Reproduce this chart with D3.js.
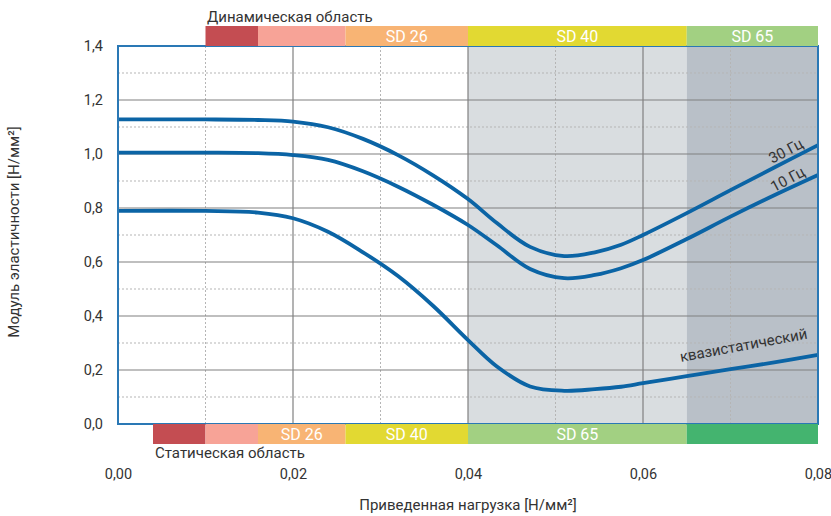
<!DOCTYPE html>
<html><head><meta charset="utf-8">
<script src="https://cdn.jsdelivr.net/npm/d3@7"></script>
<style>
body{margin:0;background:#fff;}
svg{display:block;font-family:Roboto,"Noto Sans",sans-serif;}
</style></head><body>
<svg id="c" width="831" height="516"></svg>
<script>
// ---- data ----
const loadX   = [0, 0.01, 0.016, 0.02, 0.024, 0.028, 0.032, 0.036, 0.04, 0.0433, 0.0471, 0.051, 0.0545, 0.0575, 0.06, 0.065, 0.07, 0.075, 0.08];
const hz30    = [1.128, 1.128, 1.126, 1.12, 1.099, 1.056, 0.996, 0.921, 0.833, 0.744, 0.656, 0.622, 0.636, 0.664, 0.70, 0.781, 0.866, 0.95, 1.033];
const hz10    = [1.005, 1.005, 1.003, 0.996, 0.978, 0.936, 0.879, 0.812, 0.737, 0.662, 0.574, 0.54, 0.552, 0.577, 0.607, 0.685, 0.768, 0.847, 0.922];
const quasi   = [0.789, 0.789, 0.783, 0.762, 0.712, 0.636, 0.548, 0.438, 0.311, 0.213, 0.139, 0.123, 0.129, 0.138, 0.151, 0.177, 0.203, 0.228, 0.256];
const seriesNames = ["30 Гц", "10 Гц", "квазистатический"];

const xTicks = [0, 0.02, 0.04, 0.06, 0.08];
const xMinor = [0.01, 0.03, 0.05, 0.07];
const yTicks = [0, 0.2, 0.4, 0.6, 0.8, 1.0, 1.2, 1.4];
const yMinor = [0.1, 0.3, 0.5, 0.7, 0.9, 1.1, 1.3];

// dynamic (top) bands
const dynStart = [0.01, 0.016, 0.026, 0.04, 0.065];
const dynEnd   = [0.016, 0.026, 0.04, 0.065, 0.08];
const dynLabel = ["", "", "SD 26", "SD 40", "SD 65"];
const dynColor = ["#c44d52", "#f7a397", "#f8b474", "#e2d932", "#a2d082"];
// static (bottom) bands
const statStart = [0.004, 0.01, 0.016, 0.026, 0.04, 0.065];
const statEnd   = [0.01, 0.016, 0.026, 0.04, 0.065, 0.08];
const statLabel = ["", "", "SD 26", "SD 40", "SD 65", ""];
const statColor = ["#c44d52", "#f7a397", "#f8b474", "#e2d932", "#a2d082", "#44b46f"];
// shaded zones
const shadeStart = [0.04, 0.065];
const shadeEnd   = [0.065, 0.08];
const shadeColor = ["#d9dde0", "#b9c0c8"];

// ---- drawing ----
const svg = d3.select("#c");
const x = d3.scaleLinear().domain([0, 0.08]).range([118, 818]);
const y = d3.scaleLinear().domain([0, 1.4]).range([424, 46]);
const loc = d3.formatLocale({decimal: ",", thousands: " ", grouping: [3], currency: ["", ""]});
const textCol = "#333";

// shading
svg.selectAll("rect.shade").data(shadeStart).enter().append("rect")
  .attr("x", (d) => x(d)).attr("y", y(1.4))
  .attr("width", (d, i) => x(shadeEnd[i]) - x(d)).attr("height", y(0) - y(1.4))
  .attr("fill", (d, i) => shadeColor[i]);

// minor grid (dashed)
svg.selectAll("line.xm").data(xMinor).enter().append("line")
  .attr("x1", d => x(d)).attr("x2", d => x(d)).attr("y1", y(0)).attr("y2", y(1.4))
  .attr("stroke", "#b5b5b5").attr("stroke-width", 1).attr("stroke-dasharray", "2,2");
svg.selectAll("line.ym").data(yMinor).enter().append("line")
  .attr("x1", x(0)).attr("x2", x(0.08)).attr("y1", d => y(d)).attr("y2", d => y(d))
  .attr("stroke", "#b5b5b5").attr("stroke-width", 1).attr("stroke-dasharray", "2,2");
// major grid
svg.selectAll("line.xg").data(xTicks.slice(1, -1)).enter().append("line")
  .attr("x1", d => x(d)).attr("x2", d => x(d)).attr("y1", y(0)).attr("y2", y(1.4))
  .attr("stroke", "#808080").attr("stroke-width", 1.2);
svg.selectAll("line.yg").data(yTicks.slice(1, -1)).enter().append("line")
  .attr("x1", x(0)).attr("x2", x(0.08)).attr("y1", d => y(d)).attr("y2", d => y(d))
  .attr("stroke", "#808080").attr("stroke-width", 1.2);

// curves
const line = d3.line().x((d, i) => x(loadX[i])).y(d => y(d)).curve(d3.curveCatmullRom.alpha(0.5));
[hz30, hz10, quasi].forEach(s => {
  svg.append("path").attr("d", line(s)).attr("fill", "none")
    .attr("stroke", "#0b64a5").attr("stroke-width", 3.8).attr("stroke-linecap", "butt");
});

// plot border
svg.append("rect").attr("x", x(0)).attr("y", y(1.4))
  .attr("width", x(0.08) - x(0)).attr("height", y(0) - y(1.4))
  .attr("fill", "none").attr("stroke", "#2a78b5").attr("stroke-width", 2);

// bands
function bands(starts, ends, labels, colors, y0) {
  const g = svg.append("g");
  g.selectAll("rect").data(starts).enter().append("rect")
    .attr("x", d => x(d)).attr("y", y0)
    .attr("width", (d, i) => x(ends[i]) - x(d)).attr("height", 20)
    .attr("fill", (d, i) => colors[i]);
  g.selectAll("text").data(starts).enter().append("text")
    .attr("x", (d, i) => (x(d) + x(ends[i])) / 2).attr("y", y0 + 15.5)
    .attr("text-anchor", "middle").attr("fill", "#fff").attr("font-size", 16)
    .text((d, i) => labels[i]);
}
bands(dynStart, dynEnd, dynLabel, dynColor, 26);
bands(statStart, statEnd, statLabel, statColor, 424);

svg.append("text").attr("x", 207).attr("y", 22).attr("font-size", 15).attr("fill", textCol)
  .text("Динамическая область");
svg.append("text").attr("x", 155).attr("y", 458).attr("font-size", 15).attr("fill", textCol)
  .text("Статическая область");

// axes
const yAxis = d3.axisLeft(y).tickValues(yTicks).tickSize(0).tickPadding(15)
  .tickFormat(loc.format(".1f"));
const ya = svg.append("g").attr("transform", `translate(${x(0)},0)`).call(yAxis);
const xAxis = d3.axisBottom(x).tickValues(xTicks).tickSize(0).tickPadding(0)
  .tickFormat(loc.format(".2f"));
const xa = svg.append("g").attr("transform", `translate(0,469)`).call(xAxis);
[ya, xa].forEach(a => {
  a.select(".domain").remove();
  a.selectAll("text").attr("font-size", 14.5).attr("fill", textCol)
    .attr("font-family", "Roboto,'Noto Sans',sans-serif");
});

// axis titles
svg.append("text").attr("x", 468).attr("y", 510).attr("text-anchor", "middle")
  .attr("font-size", 15).attr("fill", textCol).text("Приведенная нагрузка [Н/мм²]");
svg.append("text").attr("transform", "translate(19,232) rotate(-90)").attr("text-anchor", "middle")
  .attr("font-size", 15).attr("fill", textCol).text("Модуль эластичности [Н/мм²]");

// curve labels
const lab = [
  {t: seriesNames[0], xv: 0.0766, yv: 0.995, a: -28},
  {t: seriesNames[1], xv: 0.0768, yv: 0.89, a: -28},
  {t: seriesNames[2], xv: 0.0716, yv: 0.273, a: -10.5}
];
lab.forEach(l => {
  svg.append("text").attr("transform", `translate(${x(l.xv)},${y(l.yv)}) rotate(${l.a})`)
    .attr("text-anchor", "middle").attr("font-size", 15).attr("fill", textCol).text(l.t);
});
</script>
</body></html>
